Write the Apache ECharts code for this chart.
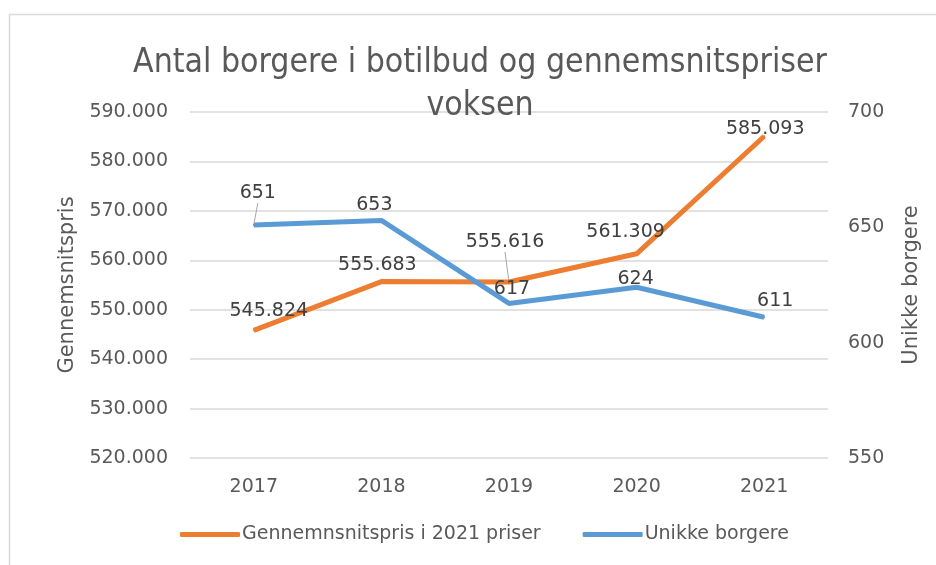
<!DOCTYPE html>
<html>
<head>
<meta charset="utf-8">
<script src="https://cdn.jsdelivr.net/npm/echarts@6/dist/echarts.min.js"></script>
<style>
    html, body { margin: 0; padding: 0; background: #fff; }
    #chart { width: 936px; height: 565px; }
</style>
</head>
<body>
<div id="chart"></div>
<script>
// data
const years = ['2017', '2018', '2019', '2020', '2021']
const avgPrice = [545824, 555683, 555616, 561309, 585093]
const citizens = [651, 653, 617, 624, 611]
const leftTicks = [520000, 590000, 10000]
const rightTicks = [550, 700, 50]

// label moves (dx, dy) from the default spot above the point, plus which ones get a leader line
const priceLabelMove = [[15, -1], [-4, 2], [-4, -21], [-11, -3], [1, 11]]
const priceLeader = [false, false, true, false, false]
const citizenLabelMove = [[4, -13], [-7, 3], [3, 4], [-1, 10], [11, 2]]
const citizenLeader = [true, false, false, false, false]

const fmt = v => v.toLocaleString('de-DE')
const font = '"DejaVu Sans", sans-serif'
const txt = '#595959'

function items(values, leader) {
    return values.map((v, i) => ({ value: v, labelLine: { show: leader[i] } }))
}

const chart = echarts.init(document.getElementById('chart'))
const option = {
    animation: false,
    textStyle: { fontFamily: font },
    graphic: [
        {
            type: 'rect',
            shape: { x: 9.5, y: 14.5, width: 1000, height: 600 },
            style: { fill: 'none', stroke: '#d9d9d9', lineWidth: 1.5 },
            silent: true
        }
    ],
    title: {
        text: 'Antal borgere i botilbud og gennemsnitspriser\nvoksen',
        left: 475,
        textAlign: 'center',
        top: 37,
        textStyle: { fontSize: 33.5, fontWeight: 'normal', color: txt, lineHeight: 43, fontFamily: '"Liberation Sans Narrow", "DejaVu Sans Condensed", sans-serif' }
    },
    legend: {
        top: 520,
        left: 175,
        itemWidth: 60,
        itemHeight: 5,
        itemGap: 42,
        icon: 'roundRect',
        textStyle: { fontSize: 19, color: txt, fontFamily: font, padding: [0, 0, 0, -3] },
        data: ['Gennemnsnitspris i 2021 priser', 'Unikke borgere']
    },
    grid: { left: 190, right: 108, top: 112, bottom: 107 },
    xAxis: {
        type: 'category',
        data: years,
        axisLine: { show: false },
        axisTick: { show: false },
        axisLabel: { fontSize: 19, color: txt, margin: 20 }
    },
    yAxis: [
        {
            type: 'value',
            min: leftTicks[0],
            max: leftTicks[1],
            interval: leftTicks[2],
            name: 'Gennemsnitspris',
            nameLocation: 'middle',
            nameRotate: 90,
            nameGap: 112,
            nameTextStyle: { fontSize: 21, color: txt },
            axisLabel: { fontSize: 19, color: txt, margin: 22, formatter: v => fmt(v) },
            splitLine: { lineStyle: { color: '#d9d9d9', width: 1.5 } }
        },
        {
            type: 'value',
            min: rightTicks[0],
            max: rightTicks[1],
            interval: rightTicks[2],
            name: 'Unikke borgere',
            nameLocation: 'middle',
            nameRotate: 90,
            nameGap: 73,
            nameTextStyle: { fontSize: 21, color: txt },
            axisLabel: { fontSize: 19, color: txt, margin: 20 },
            splitLine: { show: false }
        }
    ],
    series: [
        {
            name: 'Gennemnsnitspris i 2021 priser',
            type: 'line',
            yAxisIndex: 0,
            data: items(avgPrice, priceLeader),
            showSymbol: true,
            symbol: 'circle',
            symbolSize: 2,
            lineStyle: { color: '#ED7D31', width: 5 },
            itemStyle: { color: '#ED7D31' },
            label: { show: true, position: 'top', distance: 8, fontSize: 19, color: '#404040', formatter: p => fmt(p.value) },
            labelLine: { show: false, lineStyle: { color: '#a6a6a6', width: 1 } },
            labelLayout: p => ({ dx: priceLabelMove[p.dataIndex][0], dy: priceLabelMove[p.dataIndex][1] })
        },
        {
            name: 'Unikke borgere',
            type: 'line',
            yAxisIndex: 1,
            data: items(citizens, citizenLeader),
            showSymbol: true,
            symbol: 'circle',
            symbolSize: 2,
            lineStyle: { color: '#5B9BD5', width: 5 },
            itemStyle: { color: '#5B9BD5' },
            label: { show: true, position: 'top', distance: 8, fontSize: 19, color: '#404040' },
            labelLine: { show: false, lineStyle: { color: '#a6a6a6', width: 1 } },
            labelLayout: p => ({ dx: citizenLabelMove[p.dataIndex][0], dy: citizenLabelMove[p.dataIndex][1] })
        }
    ]
}
chart.setOption(option)
</script>
</body>
</html>
